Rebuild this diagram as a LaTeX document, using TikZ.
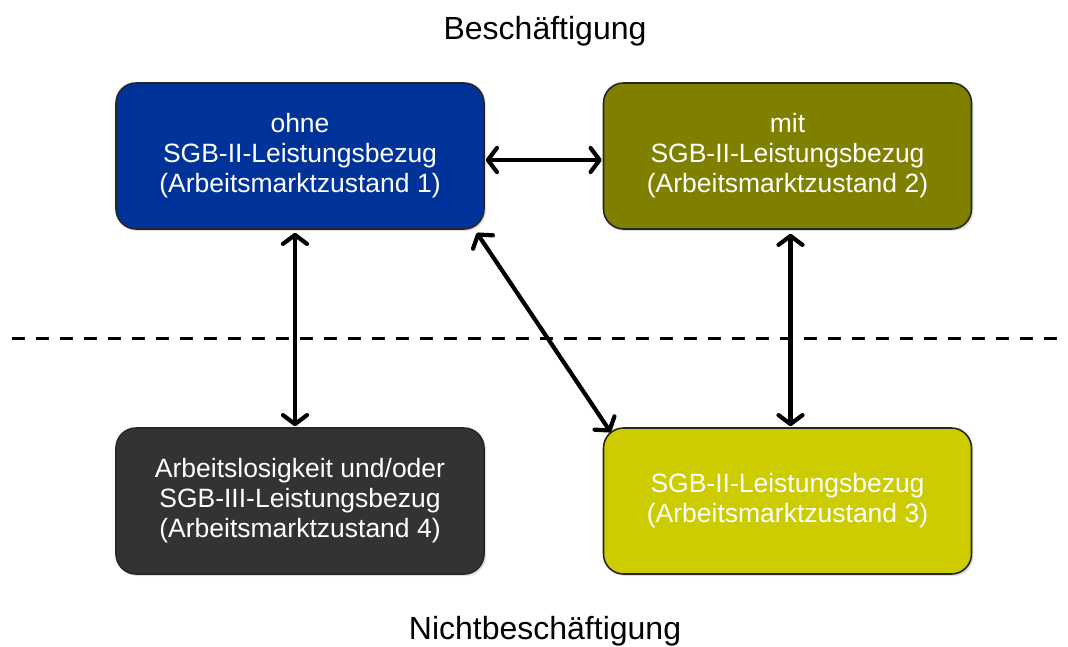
\documentclass[tikz,border=0pt]{standalone}
\usepackage{fontspec}
\setmainfont{Liberation Sans}
\usetikzlibrary{arrows.meta,calc,shadows}
\definecolor{boxblue}{RGB}{0,51,153}
\definecolor{boxolive}{RGB}{128,128,0}
\definecolor{boxyellow}{RGB}{204,204,0}
\definecolor{boxdark}{RGB}{51,51,51}
\tikzset{
  statebox/.style={draw=black!85, line width=1.6pt, rounded corners=20pt,
    minimum width=368pt, minimum height=146pt, text=white, align=center,
    font=\fontsize{26.5}{30}\selectfont, inner sep=0pt,
    drop shadow={shadow xshift=2pt, shadow yshift=-2pt, opacity=0.25}},
  title/.style={font=\fontsize{32}{36}\selectfont, text=black},
  link/.style={line width=4.2pt, {Straight Barb[length=9pt,width=24pt,round]}-{Straight Barb[length=9pt,width=24pt,round]}},
  divider/.style={line width=3pt, dash pattern=on 13pt off 11pt}
}
\begin{document}
\begin{tikzpicture}[x=1pt,y=-1pt]
\useasboundingbox (0,0) rectangle (1068,646);
\node[title] (t1) at (545,31) {Beschäftigung};
\node[title] (t2) at (545,631) {Nichtbeschäftigung};
\coordinate (dl) at (12,338);
\coordinate (dr) at (1068,338);
\draw[divider] (dl) -- (dr);
\node[statebox, fill=boxblue] (b1) at (300,156) {\raisebox{-3pt}{\begin{tabular}{@{}c@{}}ohne\\SGB-II-Leistungsbezug\\(Arbeitsmarktzustand 1)\end{tabular}}};
\node[statebox, fill=boxolive] (b2) at (787.5,156) {\raisebox{-3pt}{\begin{tabular}{@{}c@{}}mit\\SGB-II-Leistungsbezug\\(Arbeitsmarktzustand 2)\end{tabular}}};
\node[statebox, fill=boxyellow] (b3) at (787.5,501) {SGB-II-Leistungsbezug\\(Arbeitsmarktzustand 3)};
\node[statebox, fill=boxdark] (b4) at (300,501) {Arbeitslosigkeit und/oder\\SGB-III-Leistungsbezug\\(Arbeitsmarktzustand 4)};
\draw[link] ($(b1.east)+(1,4)$) -- ($(b2.west)+(-1,4)$);
\draw[link] ($(b1.south)+(-5,3)$) -- ($(b4.north)+(-5,-1)$);
\draw[link] ($(b2.south)+(3,4)$) -- ($(b3.north)+(3,-1)$);
\draw[link] ($(b1.south east)+(-8,3)$) -- ($(b3.north west)+(8,5)$);
\end{tikzpicture}
\end{document}
